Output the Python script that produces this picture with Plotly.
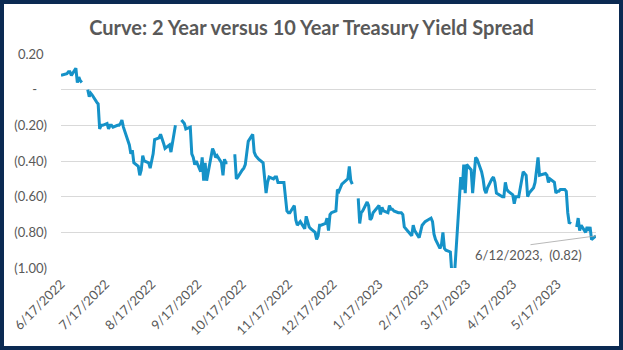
import pandas as pd
import plotly.graph_objects as go

# ---------------- data ----------------
title_text = "Curve: 2 Year versus 10 Year Treasury Yield Spread"

start_date = "2022-06-17"
end_date = "2023-06-12"
# market holidays that simply have no row (line connects across them)
closed_days = ["2022-06-20", "2022-11-11", "2022-11-24", "2022-12-26",
               "2023-01-16", "2023-02-20", "2023-04-07"]
# holidays present as empty cells (line breaks): 2022-07-04, 2022-09-05,
# 2022-10-10, 2023-01-02, 2023-05-29 -> None in the value lists below

jun22 = [0.08, 0.09, 0.10, 0.10, 0.08, 0.12, 0.04, 0.07, 0.05]
jul22 = [0.04, None, 0.00, -0.04, -0.02, -0.03, -0.07, -0.08, -0.22, -0.20, -0.20,
         -0.19, -0.22, -0.20, -0.20, -0.21, -0.20, -0.20, -0.19, -0.17, -0.21]
aug22 = [-0.28, -0.31, -0.36, -0.34, -0.41, -0.43, -0.48, -0.45, -0.37, -0.40,
         -0.41, -0.44, -0.40, -0.36, -0.28, -0.27, -0.25, -0.27, -0.30, -0.33,
         -0.31, -0.35, -0.30]
sep22 = [-0.24, -0.20, None, -0.17, -0.18, -0.19, -0.22, -0.21, -0.36, -0.38,
         -0.42, -0.40, -0.46, -0.38, -0.51, -0.41, -0.51, -0.37, -0.33, -0.35,
         -0.38, -0.37]
oct22 = [-0.41, -0.48, -0.39, -0.41, -0.41, None, -0.37, -0.37, -0.50, -0.49,
         -0.45, -0.44, -0.42, -0.35, -0.29, -0.25, -0.35, -0.37, -0.38, -0.39,
         -0.41]
nov22 = [-0.48, -0.58, -0.52, -0.49, -0.50, -0.49, -0.49, -0.52, -0.52, -0.62,
         -0.68, -0.69, -0.69, -0.65, -0.73, -0.76, -0.74, -0.78, -0.71, -0.74]
dec22 = [-0.77, -0.78, -0.80, -0.84, -0.82, -0.76, -0.76, -0.75, -0.72, -0.79,
         -0.70, -0.69, -0.68, -0.56, -0.57, -0.55, -0.53, -0.50, -0.43, -0.51,
         -0.53]
jan23 = [None, -0.61, -0.75, -0.69, -0.68, -0.63, -0.65, -0.73, -0.72, -0.69,
         -0.65, -0.70, -0.66, -0.68, -0.69, -0.65, -0.67, -0.67, -0.68, -0.69,
         -0.69]
feb23 = [-0.69, -0.70, -0.77, -0.80, -0.81, -0.82, -0.76, -0.79, -0.83, -0.79,
         -0.76, -0.75, -0.74, -0.72, -0.74, -0.81, -0.84, -0.89, -0.87]
mar23 = [-0.80, -0.89, -0.90, -0.91, -1.03, -1.07, -1.01, -0.88, -0.49, -0.56,
         -0.42, -0.58, -0.42, -0.45, -0.58, -0.48, -0.38, -0.39, -0.46, -0.50,
         -0.56, -0.58, -0.55]
apr23 = [-0.50, -0.49, -0.52, -0.58, -0.60, -0.60, -0.52, -0.56, -0.57, -0.59,
         -0.64, -0.60, -0.60, -0.60, -0.46, -0.47, -0.48, -0.60, -0.58]
may23 = [-0.55, -0.52, -0.45, -0.38, -0.48, -0.47, -0.47, -0.48, -0.52, -0.50,
         -0.52, -0.58, -0.57, -0.57, -0.56, -0.56, -0.57, -0.69, -0.75, -0.74,
         None, -0.77, -0.72]
jun23 = [-0.79, -0.76, -0.80, -0.77, -0.79, -0.77, -0.84, -0.82]

x_tick_vals = ["2022-06-17", "2022-07-17", "2022-08-17", "2022-09-17", "2022-10-17",
               "2022-11-17", "2022-12-17", "2023-01-17", "2023-02-17", "2023-03-17",
               "2023-04-17", "2023-05-17"]
x_tick_text = ["6/17/2022", "7/17/2022", "8/17/2022", "9/17/2022", "10/17/2022",
               "11/17/2022", "12/17/2022", "1/17/2023", "2/17/2023", "3/17/2023",
               "4/17/2023", "5/17/2023"]
y_tick_vals = [0.2, 0.0, -0.2, -0.4, -0.6, -0.8, -1.0]
y_tick_text = ["0.20\u00a0", "-\u00a0\u00a0\u00a0", "(0.20)", "(0.40)", "(0.60)",
               "(0.80)", "(1.00)"]
label_text = "6/12/2023,\u00a0 (0.82)"

# ---------------- build ----------------
values = (jun22 + jul22 + aug22 + sep22 + oct22 + nov22 + dec22 +
          jan23 + feb23 + mar23 + apr23 + may23 + jun23)
closed = set(pd.to_datetime(closed_days))
dates = [d for d in pd.bdate_range(start_date, end_date) if d not in closed]
assert len(dates) == len(values), (len(dates), len(values))

GRAY = "#595959"
FONT = "Lato"
W, H = 623, 350
ML, MR, MT, MB = 61, 27, 54, 82
PW, PH = W - ML - MR, H - MT - MB

fig = go.Figure()
fig.add_trace(go.Scatter(
    x=dates, y=values, mode="lines", connectgaps=False,
    line=dict(color="#1592C8", width=3), hoverinfo="skip", showlegend=False,
))

fig.update_layout(
    width=W, height=H,
    margin=dict(l=ML, r=MR, t=MT, b=MB, pad=0),
    paper_bgcolor="white", plot_bgcolor="white",
    font=dict(family=FONT, color=GRAY, size=13),
    title=dict(text="<b>" + title_text + "</b>", x=0.5, xref="container",
               y=1 - 28 / H, yref="container", yanchor="middle", xanchor="center",
               font=dict(family=FONT, size=20, color=GRAY)),
    xaxis=dict(range=[start_date, end_date], tickvals=x_tick_vals,
               ticktext=x_tick_text, tickangle=-45, showgrid=False,
               showline=False, zeroline=False, ticks="",
               tickfont=dict(size=13, color=GRAY, family=FONT),
               ticklabelstandoff=5),
    yaxis=dict(range=[-1.0, 0.2], tickvals=y_tick_vals, ticktext=y_tick_text,
               showgrid=True, gridcolor="#D9D9D9", gridwidth=1,
               zeroline=False, showline=False, ticks="",
               tickfont=dict(size=13, color=GRAY, family=FONT),
               ticklabelstandoff=13),
)

# data label with leader line
fig.add_annotation(x=dates[-1], y=values[-1], text="", showarrow=True,
                   arrowhead=0, arrowwidth=0.8, arrowcolor="#A6A6A6",
                   ax=-67, ay=9, standoff=0)
fig.add_annotation(x=dates[-1], y=values[-1], text=label_text, showarrow=False,
                   xshift=-68, yshift=-19, font=dict(size=13, color=GRAY, family=FONT))

# dark frame around the whole chart
def px_x(p):
    return (p - ML) / PW

def px_y(p):
    return (H - MB - p) / PH

fig.add_shape(type="rect", xref="paper", yref="paper",
              x0=px_x(2), x1=px_x(621), y0=px_y(348), y1=px_y(2),
              line=dict(color="#0B2A52", width=4), fillcolor="rgba(0,0,0,0)",
              layer="above")

fig.write_html("out.html")
